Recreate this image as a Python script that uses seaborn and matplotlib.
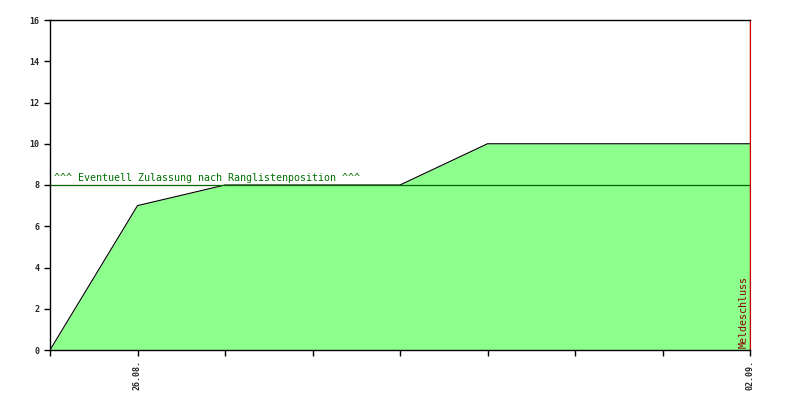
import matplotlib
matplotlib.use("Agg")
import matplotlib.pyplot as plt
import seaborn as sns
import numpy as np
import pandas as pd

# Meldungen pro Tag (25.08. bis 02.09.)
days = ["25.08.", "26.08.", "27.08.", "28.08.", "29.08.", "30.08.", "31.08.", "01.09.", "02.09."]
entries = [0, 7, 8, 8, 8, 10, 10, 10, 10]
shown_labels = ["", "26.08.", "", "", "", "", "", "", "02.09."]
limit = 8
limit_text = "^^^ Eventuell Zulassung nach Ranglistenposition ^^^"
deadline_text = "Meldeschluss"

df = pd.DataFrame({"day": np.arange(len(days)), "entries": entries})

sns.set_style("white")
plt.rcParams["font.family"] = ["DejaVu Sans Mono", "DejaVu Sans"]

fig = plt.figure(figsize=(8, 4), dpi=100)
ax = fig.add_axes([0.0625, 0.125, 0.875, 0.825])

ax.fill_between(df["day"], df["entries"], 0, color="#8cff8c", linewidth=0)
sns.lineplot(data=df, x="day", y="entries", ax=ax, color="black", linewidth=0.8)

ax.axhline(limit, color="#006400", linewidth=0.9)
ax.text(0.05, limit + 0.12, limit_text, color="#007000", fontsize=7.2, va="bottom", ha="left")

ax.axvline(len(days) - 1, color="#cc0000", linewidth=1.0)
ax.text(len(days) - 1.02, 0.1, deadline_text, color="#8b0000", fontsize=7.2,
        rotation=90, ha="right", va="bottom")

ax.set_xlim(0, len(days) - 1)
ax.set_ylim(0, 16)
ax.set_xticks(df["day"])
ax.set_xticklabels(shown_labels, rotation=90, fontsize=6, fontweight="bold")
ax.set_yticks(range(0, 17, 2))
ax.set_yticklabels([str(v) for v in range(0, 17, 2)], fontsize=6, fontweight="bold")
ax.tick_params(axis="both", direction="out", length=4, width=1, color="black", bottom=True, left=True)
ax.tick_params(axis="x", pad=3)
ax.set_xlabel("")
ax.set_ylabel("")

for s in ["left", "bottom", "top"]:
    ax.spines[s].set_color("black")
    ax.spines[s].set_linewidth(1)
ax.spines["right"].set_color("#cc0000")

fig.savefig("out.png", dpi=100)
